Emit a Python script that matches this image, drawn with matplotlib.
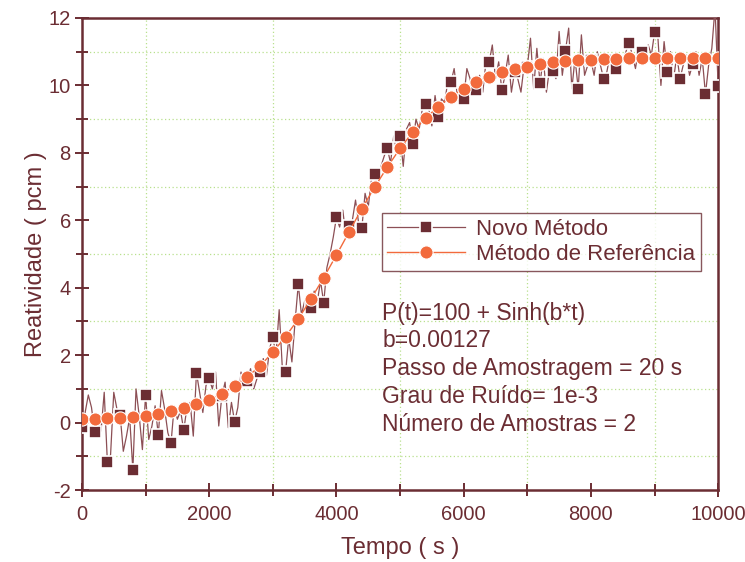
import matplotlib
matplotlib.use("Agg")
import matplotlib.pyplot as plt
from matplotlib.ticker import MultipleLocator

plt.rcParams['font.family'] = ['Liberation Sans', 'DejaVu Sans']
plt.rcParams['axes.unicode_minus'] = False

# ---- data ----
t_step = 50  # s between points of the "Novo Método" trace
novo_y = [
    -0.12, 0.30, 0.82, 0.45,
    -0.29, 0.20, -0.25, 0.90,
    -1.18, -0.95, 0.90, 0.40,
    0.23, -0.85, -0.40, 0.15,
    -1.40, 1.00, 0.20, -0.80,
    0.82, -0.50, -0.10, 0.50,
    -0.37, 0.95, 0.40, -0.30,
    -0.61, 0.50, 0.10, 0.35,
    -0.23, 0.45, 0.60, -0.40,
    1.48, 0.90, 0.30, 1.10,
    1.31, 1.00, 1.50, -0.10,
    0.80, 1.20, -0.15, 0.60,
    0.02, 0.45, 1.50, 1.10,
    1.24, 1.60, 1.00, 1.30,
    1.51, 1.90, 1.40, 2.20,
    2.54, 2.00, 3.35, 1.60,
    1.49, 2.50, 1.80, 3.00,
    4.10, 3.20, 3.60, 3.30,
    3.39, 3.90, 3.60, 4.20,
    3.55, 4.60, 5.00, 5.50,
    6.09, 5.80, 6.30, 5.50,
    5.83, 6.00, 6.60, 5.90,
    5.78, 6.80, 6.40, 7.20,
    7.37, 7.00, 7.60, 7.90,
    8.14, 7.70, 8.50, 8.00,
    8.51, 7.60, 8.70, 8.90,
    8.26, 9.00, 8.70, 9.30,
    9.44, 9.30, 8.80, 9.70,
    9.05, 9.60, 9.50, 10.10,
    10.09, 10.50, 9.70, 10.00,
    9.59, 10.50, 10.20, 9.70,
    9.87, 10.30, 9.80, 10.70,
    10.69, 11.20, 10.20, 10.70,
    9.86, 10.30, 10.90, 9.80,
    10.41, 10.20, 9.80, 10.60,
    10.56, 11.40, 9.90, 11.10,
    10.07, 10.80, 9.80, 10.50,
    10.43, 10.20, 11.60, 10.30,
    11.03, 11.70, 9.90, 10.80,
    9.90, 11.50, 10.30, 10.60,
    10.74, 10.30, 11.00, 10.60,
    10.19, 10.40, 10.90, 10.60,
    10.49, 10.90, 10.70, 11.00,
    11.27, 10.90, 10.50, 11.10,
    10.98, 10.80, 11.20, 10.90,
    11.57, 11.50, 10.00, 11.30,
    10.41, 11.00, 10.20, 10.90,
    10.19, 10.60, 10.90, 10.30,
    10.64, 11.00, 10.30, 10.80,
    9.74, 10.60, 11.10, 12.30,
    9.97,
]
novo_t = [i * t_step for i in range(len(novo_y))]

ref_t = [i * 200 for i in range(51)]
ref_y = [
    0.10, 0.12, 0.13, 0.15, 0.18, 0.21, 0.27, 0.33, 0.42, 0.54,
    0.67, 0.86, 1.09, 1.36, 1.68, 2.09, 2.55, 3.07, 3.67, 4.30,
    4.97, 5.66, 6.35, 6.98, 7.58, 8.13, 8.62, 9.03, 9.37, 9.67,
    9.90, 10.11, 10.26, 10.39, 10.48, 10.56, 10.63, 10.68, 10.71, 10.74,
    10.76, 10.78, 10.78, 10.80, 10.81, 10.81, 10.81, 10.81, 10.81, 10.81,
    10.81,
]

label_novo = "Novo Método"
label_ref = "Método de Referência"
info_lines = [
    "P(t)=100 + Sinh(b*t)",
    "b=0.00127",
    "Passo de Amostragem = 20 s",
    "Grau de Ruído= 1e-3",
    "Número de Amostras = 2",
]

# ---- style ----
dark = "#6b2d33"
line_c = "#8c4f55"
orange = "#f26a3c"
gridc = "#b9e08e"

fig = plt.figure(figsize=(7.45, 5.62), dpi=100)
ax = fig.add_axes([0.110, 0.128, 0.854, 0.840])

ax.plot(novo_t, novo_y, color=line_c, lw=0.9, marker="s", markevery=4,
        ms=8.3, mfc=dark, mec="white", mew=1.2, label=label_novo, zorder=3)
ax.plot(ref_t, ref_y, color=orange, lw=1.0, marker="o", ms=9.5,
        mfc=orange, mec="white", mew=0.8, label=label_ref, zorder=4)

ax.set_xlim(0, 10000)
ax.set_ylim(-2, 12)
ax.xaxis.set_major_locator(MultipleLocator(2000))
ax.xaxis.set_minor_locator(MultipleLocator(1000))
ax.yaxis.set_major_locator(MultipleLocator(2))
ax.yaxis.set_minor_locator(MultipleLocator(1))

ax.grid(which="minor", color=gridc, ls=(0, (1, 2)), lw=0.9)
ax.grid(which="major", visible=False)
ax.set_axisbelow(True)

for s in ax.spines.values():
    s.set_color(dark)
    s.set_linewidth(1.8)

ax.tick_params(which="both", direction="inout", color=dark, width=1.4,
               labelcolor=dark, labelsize=14.5, top=False, right=False)
ax.tick_params(which="major", length=10)
ax.tick_params(which="minor", length=8)
ax.tick_params(axis="x", pad=6)
ax.tick_params(axis="y", pad=3)

ax.set_xlabel("Tempo ( s )", fontsize=17, color=dark, labelpad=9)
ax.set_ylabel("Reatividade ( pcm )", fontsize=17, color=dark, labelpad=1)

leg = ax.legend(loc="upper left", bbox_to_anchor=(0.471, 0.587), fontsize=16,
                frameon=True, fancybox=False, handlelength=3.5,
                handletextpad=0.5, borderpad=0.25, labelspacing=0.2,
                borderaxespad=0)
leg.get_frame().set_edgecolor(dark)
leg.get_frame().set_linewidth(1.0)
for txt in leg.get_texts():
    txt.set_color(dark)

for i, line in enumerate(info_lines):
    ax.text(0.472, 0.375 - i * 0.0588, line, transform=ax.transAxes,
            fontsize=16.5, color=dark, va="center", ha="left")

fig.savefig("out.png", dpi=100)
